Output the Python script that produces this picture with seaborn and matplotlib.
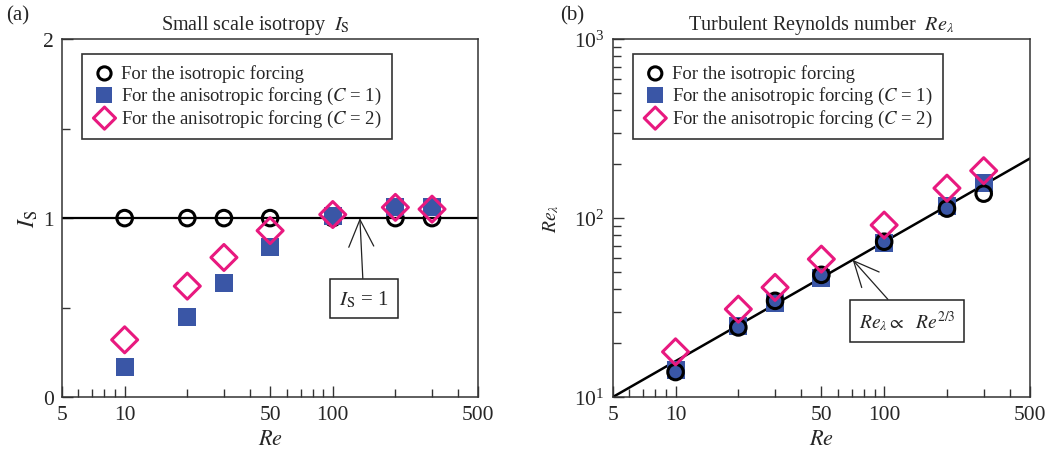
import numpy as np
import pandas as pd
import matplotlib
matplotlib.use("Agg")
import matplotlib.pyplot as plt
from matplotlib.ticker import FixedLocator, NullFormatter, FixedFormatter, LogLocator
import seaborn as sns

# ---------------- data ----------------
re_vals = [10, 20, 30, 50, 100, 200, 300]
is_iso = [1.0, 1.0, 1.0, 1.0, 1.0, 1.0, 1.0]
is_c1 = [0.17, 0.45, 0.64, 0.84, 1.01, 1.06, 1.06]
is_c2 = [0.32, 0.62, 0.78, 0.93, 1.02, 1.06, 1.05]

rel_iso = [13.8, 24.5, 34.5, 48.2, 73.8, 113, 137]
rel_c1 = [14.2, 25.0, 33.5, 46.5, 73.0, 117, 157]
rel_c2 = [17.9, 31.0, 41.0, 59.0, 91.4, 147, 184]

fit_re = [5, 500]
fit_prefactor = 10.0  # Re_lambda = 10 * (Re/5)^(2/3)

labels = ["For the isotropic forcing",
          "For the anisotropic forcing ($C$ = 1)",
          "For the anisotropic forcing ($C$ = 2)"]
xtick_labels = ["5", "10", "50", "100", "500"]
xtick_vals = [5, 10, 50, 100, 500]

BLUE = "#3a56a6"
PINK = "#e8197f"

sns.set_theme(style="ticks")
plt.rcParams["font.family"] = ["Liberation Serif", "DejaVu Serif"]
plt.rcParams["mathtext.fontset"] = "stix"
plt.rcParams["axes.linewidth"] = 1.1
plt.rcParams["axes.edgecolor"] = "#333333"

fig = plt.figure(figsize=(10.51, 4.56), dpi=100)
axA = fig.add_axes([0.059, 0.127, 0.396, 0.785])
axB = fig.add_axes([0.583, 0.127, 0.397, 0.785])

df_a = pd.DataFrame({"Re": re_vals, "iso": is_iso, "c1": is_c1, "c2": is_c2})
df_b = pd.DataFrame({"Re": re_vals, "iso": rel_iso, "c1": rel_c1, "c2": rel_c2})

MS_O = 125
MS_S = 180
MS_D = 175
LW = 2.2


def draw_iso(ax, df, z):
    sns.scatterplot(data=df, x="Re", y="iso", ax=ax, marker="o", s=MS_O,
                    color="black", facecolor="none", edgecolor="black",
                    linewidth=LW, label=labels[0], zorder=z)


def draw_c1(ax, df, z):
    sns.scatterplot(data=df, x="Re", y="c1", ax=ax, marker="s", s=MS_S,
                    color=BLUE, edgecolor=BLUE, linewidth=0,
                    label=labels[1], zorder=z)


def draw_c2(ax, df, z):
    sns.scatterplot(data=df, x="Re", y="c2", ax=ax, marker="D", s=MS_D,
                    color=PINK, facecolor="none", edgecolor=PINK,
                    linewidth=LW, label=labels[2], zorder=z)


# ---------------- panel (a) ----------------
axA.axhline(1.0, color="black", lw=1.6, zorder=2)
draw_iso(axA, df_a, 3)
draw_c1(axA, df_a, 4)
draw_c2(axA, df_a, 5)

# ---------------- panel (b) ----------------
fit_y = [fit_prefactor * (r / fit_re[0]) ** (2.0 / 3.0) for r in fit_re]
sns.lineplot(x=fit_re, y=fit_y, ax=axB, color="black", lw=1.8, zorder=2)
draw_c1(axB, df_b, 3)
draw_iso(axB, df_b, 4)
draw_c2(axB, df_b, 5)

for ax in (axA, axB):
    ax.set_xscale("log")
    ax.set_xlim(5, 500)
    ax.xaxis.set_major_locator(FixedLocator(xtick_vals))
    ax.xaxis.set_major_formatter(FixedFormatter(xtick_labels))
    ax.xaxis.set_minor_locator(LogLocator(base=10, subs=np.arange(2, 10)))
    ax.xaxis.set_minor_formatter(NullFormatter())
    ax.tick_params(which="both", direction="in", top=False, right=False,
                   labelsize=15.5, pad=6, color="#333333")
    ax.tick_params(which="major", length=8, width=1.0)
    ax.tick_params(which="minor", length=6, width=1.0)
    ax.set_xlabel("$Re$", fontsize=16, labelpad=4)
    for sp in ax.spines.values():
        sp.set_visible(True)
    handles, labs = ax.get_legend_handles_labels()
    order = [labs.index(l) for l in labels]
    leg = ax.legend([handles[i] for i in order], [labs[i] for i in order],
                    loc="upper left", bbox_to_anchor=(0.048, 0.958),
                    fontsize=13.5, frameon=True, fancybox=False,
                    framealpha=1, edgecolor="#333333", borderpad=0.55,
                    handletextpad=0.25, handlelength=1.3, labelspacing=0.12,
                    borderaxespad=0, markerscale=0.85)
    leg.get_frame().set_linewidth(1.2)

axA.set_ylim(0, 2)
axA.yaxis.set_major_locator(FixedLocator([0, 1, 2]))
axA.yaxis.set_minor_locator(FixedLocator([0.5, 1.5]))
axA.set_ylabel(r"$I_\mathrm{S}$", fontsize=17, labelpad=2)
axA.set_title(r"Small scale isotropy  $I_\mathrm{S}$", fontsize=14.5, pad=7, x=0.465)

axB.set_yscale("log")
axB.set_ylim(10, 1000)
axB.yaxis.set_minor_locator(LogLocator(base=10, subs=np.arange(2, 10)))
axB.yaxis.set_minor_formatter(NullFormatter())
axB.set_ylabel(r"$Re_\lambda$", fontsize=14, labelpad=9)
axB.set_title(r"Turbulent Reynolds number  $Re_\lambda$", fontsize=14.5, pad=7)

# annotations
box = dict(boxstyle="square,pad=0.45", fc="white", ec="#222222", lw=1.1)
axA.annotate(r"$I_\mathrm{S}$ = 1", xy=(135, 1.0), xytext=(141, 0.55),
             fontsize=15, ha="center", va="center", bbox=box,
             arrowprops=dict(arrowstyle="->,head_length=1.3,head_width=0.6",
                             color="#222222", lw=0.9, shrinkA=0, shrinkB=0),
             zorder=6)
axB.annotate(r"$Re_\lambda \propto\ \ Re^{2/3}$", xy=(70.6, 58.5),
             xytext=(129, 26.6), fontsize=14, ha="center", va="center",
             bbox=box,
             arrowprops=dict(arrowstyle="->,head_length=1.3,head_width=0.6",
                             color="#222222", lw=0.9, shrinkA=0, shrinkB=0),
             zorder=6)

fig.text(0.006, 0.965, "(a)", fontsize=15, ha="left", va="center")
fig.text(0.533, 0.965, "(b)", fontsize=15, ha="left", va="center")

fig.savefig("out.png", dpi=100)
